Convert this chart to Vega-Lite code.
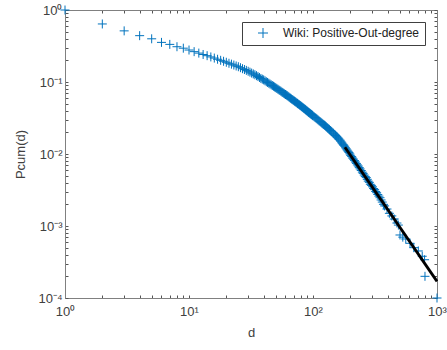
{
  "$schema": "https://vega.github.io/schema/vega-lite/v6.json",
  "width": 372,
  "height": 288,
  "autosize": {"type": "none"},
  "padding": {"left": 65, "top": 10, "right": 10, "bottom": 52},
  "config": {
    "font": "Liberation Sans",
    "view": {"stroke": "#808080", "strokeWidth": 1},
    "axis": {
      "grid": false,
      "domainColor": "#808080",
      "tickColor": "#555555",
      "tickSize": -3,
      "labelColor": "#404040",
      "labelFontSize": 13,
      "titleColor": "#404040",
      "titleFontSize": 13,
      "titleFontWeight": "normal",
      "labelFlush": false,
      "labelOverlap": false
    }
  },
  "datasets": {
    "cum": [
      {"d": 1, "p": 1.0}, {"d": 2, "p": 0.640}, {"d": 3, "p": 0.513}, {"d": 4, "p": 0.440}, {"d": 5, "p": 0.398},
      {"d": 6, "p": 0.355}, {"d": 7, "p": 0.333}, {"d": 8, "p": 0.309}, {"d": 9, "p": 0.295}, {"d": 10, "p": 0.278},
      {"d": 11, "p": 0.264}, {"d": 12, "p": 0.252}, {"d": 13, "p": 0.241}, {"d": 14, "p": 0.232}, {"d": 15, "p": 0.223},
      {"d": 16, "p": 0.215}, {"d": 17, "p": 0.207}, {"d": 18, "p": 0.200}, {"d": 19, "p": 0.194}, {"d": 20, "p": 0.188},
      {"d": 21, "p": 0.182}, {"d": 22, "p": 0.177}, {"d": 23, "p": 0.172}, {"d": 24, "p": 0.167}, {"d": 25, "p": 0.163},
      {"d": 26, "p": 0.158}, {"d": 27, "p": 0.153}, {"d": 28, "p": 0.149}, {"d": 29, "p": 0.145}, {"d": 30, "p": 0.141},
      {"d": 31, "p": 0.137}, {"d": 32, "p": 0.133}, {"d": 33, "p": 0.1295}, {"d": 34, "p": 0.126}, {"d": 35, "p": 0.1225},
      {"d": 36, "p": 0.119}, {"d": 37, "p": 0.1155}, {"d": 38, "p": 0.112}, {"d": 39, "p": 0.1095}, {"d": 40, "p": 0.107},
      {"d": 41, "p": 0.104}, {"d": 42, "p": 0.101}, {"d": 43, "p": 0.0986}, {"d": 44, "p": 0.0962}, {"d": 45, "p": 0.0938},
      {"d": 46, "p": 0.0914}, {"d": 47, "p": 0.0893}, {"d": 48, "p": 0.0873}, {"d": 49, "p": 0.0853}, {"d": 50, "p": 0.0834},
      {"d": 51, "p": 0.0815}, {"d": 52, "p": 0.0796}, {"d": 53, "p": 0.0779}, {"d": 54, "p": 0.0762}, {"d": 55, "p": 0.0745},
      {"d": 56, "p": 0.0728}, {"d": 57, "p": 0.0713}, {"d": 58, "p": 0.0698}, {"d": 59, "p": 0.0684}, {"d": 60, "p": 0.0670},
      {"d": 61, "p": 0.0658}, {"d": 62, "p": 0.0646}, {"d": 63, "p": 0.0632}, {"d": 64, "p": 0.0619}, {"d": 65, "p": 0.0606},
      {"d": 66, "p": 0.0594}, {"d": 67, "p": 0.0582}, {"d": 68, "p": 0.0571}, {"d": 69, "p": 0.0561}, {"d": 70, "p": 0.0551},
      {"d": 71, "p": 0.0541}, {"d": 72, "p": 0.0532}, {"d": 73, "p": 0.0522}, {"d": 74, "p": 0.0513}, {"d": 75, "p": 0.0504},
      {"d": 76, "p": 0.0495}, {"d": 77, "p": 0.0487}, {"d": 78, "p": 0.0479}, {"d": 79, "p": 0.0471}, {"d": 80, "p": 0.0463},
      {"d": 81, "p": 0.0455}, {"d": 82, "p": 0.0447}, {"d": 83, "p": 0.0440}, {"d": 84, "p": 0.0433}, {"d": 85, "p": 0.0426},
      {"d": 86, "p": 0.0419}, {"d": 87, "p": 0.0412}, {"d": 88, "p": 0.0406}, {"d": 89, "p": 0.0399}, {"d": 90, "p": 0.0393},
      {"d": 91, "p": 0.0386}, {"d": 92, "p": 0.0380}, {"d": 93, "p": 0.0375}, {"d": 94, "p": 0.0370}, {"d": 95, "p": 0.0364},
      {"d": 96, "p": 0.0359}, {"d": 97, "p": 0.0354}, {"d": 98, "p": 0.0349}, {"d": 99, "p": 0.0344}, {"d": 100, "p": 0.0339},
      {"d": 102, "p": 0.0330}, {"d": 104, "p": 0.0321}, {"d": 106, "p": 0.0313}, {"d": 108, "p": 0.0305}, {"d": 110, "p": 0.0297},
      {"d": 112, "p": 0.0289}, {"d": 114, "p": 0.0282}, {"d": 116, "p": 0.0275}, {"d": 118, "p": 0.0268}, {"d": 120, "p": 0.0262},
      {"d": 122, "p": 0.0256}, {"d": 124, "p": 0.0251}, {"d": 126, "p": 0.0245}, {"d": 128, "p": 0.0239}, {"d": 130, "p": 0.0233},
      {"d": 132, "p": 0.0227}, {"d": 134, "p": 0.0222}, {"d": 136, "p": 0.0217}, {"d": 138, "p": 0.0212}, {"d": 140, "p": 0.0207},
      {"d": 142, "p": 0.0202}, {"d": 145, "p": 0.0196}, {"d": 147, "p": 0.0191}, {"d": 150, "p": 0.0185}, {"d": 152, "p": 0.0181},
      {"d": 155, "p": 0.0176}, {"d": 157, "p": 0.0171}, {"d": 160, "p": 0.0166}, {"d": 162, "p": 0.0161}, {"d": 165, "p": 0.0156},
      {"d": 167, "p": 0.0151}, {"d": 170, "p": 0.0146}, {"d": 172, "p": 0.0141}, {"d": 175, "p": 0.0136}, {"d": 177, "p": 0.0132},
      {"d": 180, "p": 0.0128}, {"d": 183, "p": 0.0122}, {"d": 186, "p": 0.01175}, {"d": 189, "p": 0.0113}, {"d": 192, "p": 0.01089},
      {"d": 195, "p": 0.0105}, {"d": 198, "p": 0.01005}, {"d": 201, "p": 0.0096}, {"d": 205, "p": 0.00921}, {"d": 208, "p": 0.0088},
      {"d": 212, "p": 0.00849}, {"d": 216, "p": 0.0081}, {"d": 220, "p": 0.00774}, {"d": 224, "p": 0.0074}, {"d": 228, "p": 0.00706},
      {"d": 232, "p": 0.0068}, {"d": 236, "p": 0.00647}, {"d": 240, "p": 0.0062}, {"d": 245, "p": 0.00590}, {"d": 250, "p": 0.0056},
      {"d": 254, "p": 0.00538}, {"d": 259, "p": 0.0051}, {"d": 264, "p": 0.00488}, {"d": 269, "p": 0.0047}, {"d": 274, "p": 0.00445},
      {"d": 279, "p": 0.0042}, {"d": 285, "p": 0.00404}, {"d": 290, "p": 0.0038}, {"d": 296, "p": 0.00367}, {"d": 302, "p": 0.0035},
      {"d": 308, "p": 0.00331}, {"d": 314, "p": 0.0032}, {"d": 320, "p": 0.00302}, {"d": 326, "p": 0.0029}, {"d": 333, "p": 0.00274},
      {"d": 340, "p": 0.0026}, {"d": 347, "p": 0.00247}, {"d": 354, "p": 0.0023}, {"d": 362, "p": 0.00215}, {"d": 370, "p": 0.0020},
      {"d": 378, "p": 0.00190}, {"d": 395, "p": 0.00172}, {"d": 413, "p": 0.00150},
      {"d": 432, "p": 0.00138}, {"d": 452, "p": 0.00125}, {"d": 475, "p": 0.00110}, {"d": 488, "p": 0.00103}, {"d": 503, "p": 0.00075},
      {"d": 530, "p": 0.00070}, {"d": 560, "p": 0.00066}, {"d": 606, "p": 0.000575}, {"d": 650, "p": 0.00050}, {"d": 707, "p": 0.00045},
      {"d": 760, "p": 0.00038}, {"d": 794, "p": 0.00034}, {"d": 800, "p": 0.00020}, {"d": 1000, "p": 0.0001}
    ],
    "fit": [
      {"d": 181, "p": 0.01239},
      {"d": 1000, "p": 0.00017}
    ]
  },
  "layer": [
    {
      "data": {"name": "cum"},
      "mark": {"type": "point", "shape": "M-1,0H1M0,-1V1", "filled": false, "size": 81, "strokeWidth": 1, "opacity": 1},
      "encoding": {
        "x": {
          "field": "d", "type": "quantitative",
          "scale": {"type": "log", "domain": [1, 1000], "nice": false},
          "axis": {
            "orient": "bottom", "title": "d", "titlePadding": 8, "labelPadding": 10,
            "values": [1,2,3,4,5,6,7,8,9,10,20,30,40,50,60,70,80,90,100,200,300,400,500,600,700,800,900,1000],
            "labelExpr": "datum.value == 1 ? '10⁰' : datum.value == 10 ? '10¹' : datum.value == 100 ? '10²' : datum.value == 1000 ? '10³' : ''"
          }
        },
        "y": {
          "field": "p", "type": "quantitative",
          "scale": {"type": "log", "domain": [0.0001, 1], "nice": false},
          "axis": {
            "orient": "left", "title": "Pcum(d)", "titlePadding": 10, "labelPadding": 6,
            "values": [0.0001,0.0002,0.0003,0.0004,0.0005,0.0006,0.0007,0.0008,0.0009,0.001,0.002,0.003,0.004,0.005,0.006,0.007,0.008,0.009,0.01,0.02,0.03,0.04,0.05,0.06,0.07,0.08,0.09,0.1,0.2,0.3,0.4,0.5,0.6,0.7,0.8,0.9,1],
            "labelExpr": "datum.value == 1 ? '10⁰' : datum.value == 0.1 ? '10⁻¹' : datum.value == 0.01 ? '10⁻²' : datum.value == 0.001 ? '10⁻³' : datum.value == 0.0001 ? '10⁻⁴' : ''"
          }
        },
        "color": {
          "datum": "Wiki: Positive-Out-degree",
          "type": "nominal",
          "scale": {"range": ["#0072BD"]},
          "legend": {
            "title": null,
            "orient": "top-right",
            "offset": 12,
            "strokeColor": "#404040",
            "fillColor": "white",
            "padding": 5,
            "symbolType": "M-1,0H1M0,-1V1",
            "symbolSize": 100,
            "symbolStrokeWidth": 1,
            "symbolOffset": 10,
            "labelOffset": 14,
            "labelFontSize": 12,
            "labelColor": "#222222"
          }
        }
      }
    },
    {
      "data": {"name": "fit"},
      "mark": {"type": "line", "color": "black", "strokeWidth": 2.8},
      "encoding": {
        "x": {
          "field": "d", "type": "quantitative",
          "axis": {
            "orient": "top", "title": null, "labels": false,
            "values": [1,2,3,4,5,6,7,8,9,10,20,30,40,50,60,70,80,90,100,200,300,400,500,600,700,800,900,1000]
          }
        },
        "y": {
          "field": "p", "type": "quantitative",
          "axis": {
            "orient": "right", "title": null, "labels": false,
            "values": [0.0001,0.0002,0.0003,0.0004,0.0005,0.0006,0.0007,0.0008,0.0009,0.001,0.002,0.003,0.004,0.005,0.006,0.007,0.008,0.009,0.01,0.02,0.03,0.04,0.05,0.06,0.07,0.08,0.09,0.1,0.2,0.3,0.4,0.5,0.6,0.7,0.8,0.9,1]
          }
        }
      }
    }
  ],
  "resolve": {"axis": {"x": "independent", "y": "independent"}}
}
